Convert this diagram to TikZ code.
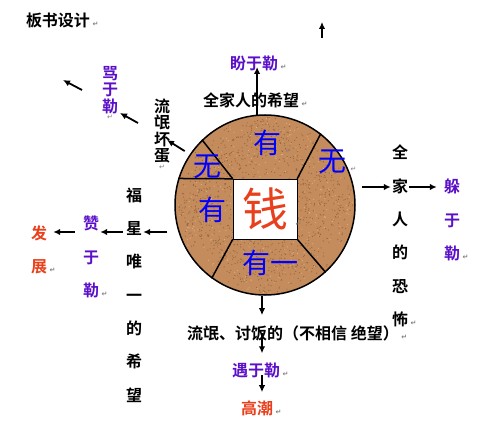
\documentclass[tikz,border=0pt]{standalone}
\usepackage{fontspec}
\setmainfont{Noto Sans CJK SC}[BoldFont={* Bold}]
\newfontfamily\symfont{DejaVu Sans}
\usetikzlibrary{arrows.meta,calc}
\definecolor{Cork}{RGB}{196,140,92}
\definecolor{CorkDk}{RGB}{150,100,60}
\definecolor{CorkLt}{RGB}{220,176,128}
\definecolor{Violet}{HTML}{5B10C8}
\definecolor{Vermil}{HTML}{E8401C}
\newcommand\retsym{{\symfont\fontsize{7}{7}\selectfont\textcolor{gray}{↵}}}
\newcommand\retmark{\rlap{\,\retsym}}

\begin{document}
\begin{tikzpicture}[x=1pt,y=-1pt,
  lab/.style={inner sep=1pt,font=\bfseries\fontsize{16}{17}\selectfont},
  col/.style={lab,align=center,font=\bfseries\fontsize{16}{33.3}\selectfont},
  tight/.style={lab,align=center,font=\bfseries\fontsize{16}{16.5}\selectfont},
  big/.style={inner sep=0pt,text=blue,font=\fontsize{28}{28}\selectfont},
  coin/.style={circle,draw,line width=1.5pt,fill=Cork,minimum size=180pt,inner sep=0pt},
  arr/.style={-{Latex[length=7pt,width=6.5pt]},line width=1.8pt},
  cut/.style={line width=1.5pt},
  retlab/.style={inner sep=0pt,font=\symfont\fontsize{7}{7}\selectfont,text=gray}]
\useasboundingbox (0,0) rectangle (477,433);
\node[lab] (title) at (58,20) {板书设计\retmark};
% the coin
\node[coin] (ring) at (265,205) {};
\begin{scope}
\pgfmathsetseed{7}
\clip (ring.center) circle (88.5);
\foreach \i in {1,...,1100}{\fill[CorkDk] ($(ring.center)+({rnd*360}:{88*sqrt(rnd)})$) circle (0.6);}
\foreach \i in {1,...,350}{\fill[CorkLt] ($(ring.center)+({rnd*360}:{88*sqrt(rnd)})$) circle (0.6);}
\end{scope}
\node[draw,fill=white,minimum width=64pt,minimum height=60pt,inner sep=0pt,text=Vermil,font=\fontsize{46}{46}\selectfont] (qian) at (265,209) {钱\retmark};
\draw[cut] (qian.north west) -- (ring.134);
\draw[cut] (qian.north west) -- (ring.163);
\draw[cut] (qian.north east) -- (ring.52);
\draw[cut] (qian.south east) -- (ring.-48);
\draw[cut] (qian.south west) -- (ring.-126);
\node[big] (you1) at (267,143) {有\retmark};
\node[big] (wu1) at (332,162) {无\retmark};
\node[big] (wu2) at (207,167) {无};
\node[big] (you2) at (212,210) {有};
\node[big] (you3) at (270,263) {有一};
% labels round it
\node[lab,text=Violet] (pan) at (254,63) {盼于勒\retmark};
\node[lab] (hope) at (251,100) {全家人的希望\retmark};
\node[tight,text=Violet,label={[retlab]below:↵}] (ma) at (110,90) {骂\\于\\勒};
\node[tight,label={[retlab]below:↵}] (lm) at (162,131) {流\\氓\\坏\\蛋};
\node[col] (fu) at (134,295) {福\\星\\唯\\一\\的\\希\\望};
\node[col,text=Violet] (zan) at (91,257) {赞\\于\\勒\retmark};
\node[col,text=Vermil] (fz) at (39,250) {发\\展\retmark};
\node[col] (kong) at (400,236) {全\\家\\人\\的\\恐\\怖\retmark};
\node[col,text=Violet] (duo) at (452,220) {躲\\于\\勒\retmark};
\node[lab] (liu) at (293,333) {流氓、讨饭的（不相信\ 绝望）\retmark};
\node[lab,text=Violet] (yu) at (256,370) {遇于勒\retmark};
\node[lab,text=Vermil] (gc) at (257,408) {高潮\retmark};
% arrows
\coordinate (rowL) at (0,232);
\coordinate (rowR) at (0,187);
\coordinate (axis) at ([xshift=-3pt]ring.south);
\coordinate (tailT) at (322,38);
\coordinate (tipT) at (322,22);
\coordinate (tipM) at (63,80);
\draw[arr] (tailT) -- (tipT);
\draw[arr,shorten >=4pt] (ring.95) -- (ring.95|-pan);
\draw[arr,shorten <=6pt] (ring.146) -- ([xshift=5pt,yshift=-9pt]lm.center);
\draw[arr] ([xshift=-24pt,yshift=8pt]lm.center) -- ([xshift=10pt,yshift=-23pt]ma.center);
\draw[arr] ([xshift=-28pt]ma.center) -- (tipM);
\draw[arr,shorten <=7pt] (ring.west|-rowL) -- (fu.east|-rowL);
\draw[arr,shorten <=2pt] (fu.west|-rowL) -- (zan.east|-rowL);
\draw[arr,shorten <=7pt,shorten >=5pt] (zan.west|-rowL) -- (fz.east|-rowL);
\draw[arr,shorten <=6pt] (ring.east|-rowR) -- (kong.west|-rowR);
\draw[arr,shorten >=6pt] (kong.east|-rowR) -- (duo.west|-rowR);
\draw[arr,shorten >=9pt] (axis) -- (axis|-liu.north);
\draw[arr,shorten >=8pt] (axis|-liu) -- (axis|-yu.north);
\draw[arr,shorten <=5pt,shorten >=7pt] (axis|-yu) -- (axis|-gc.north);
\end{tikzpicture}
\end{document}
